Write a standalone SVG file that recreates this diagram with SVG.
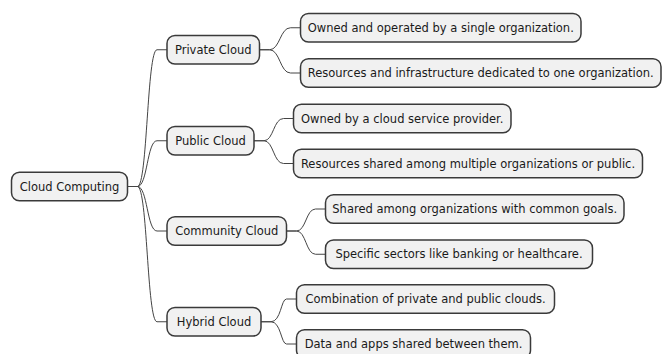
<svg xmlns="http://www.w3.org/2000/svg" width="662" height="354" viewBox="0 0 662 354">
<style>
.n rect{fill:#F1F1F1;stroke:#3a3a3a;stroke-width:1.5}
.n text{font-family:"DejaVu Sans",sans-serif;font-size:11.5px;fill:#1a1a1a;text-anchor:middle}
.c path{fill:none;stroke:#444;stroke-width:1}
</style>
<rect width="662" height="354" fill="#fff"/>
<g class="c">
<path d="M127.5 186.5H137.5C147.5 186.5 147 49.75 157 49.75H167"/>
<path d="M127.5 186.5H137.5C147.5 186.5 147 140.75 157 140.75H167"/>
<path d="M127.5 186.5H137.5C147.5 186.5 147 231 157 231H167"/>
<path d="M127.5 186.5H137.5C147.5 186.5 147 321.75 157 321.75H167"/>
<path d="M259.5 49.75H269.5C280 49.75 280 27.75 290.5 27.75H300.5"/>
<path d="M259.5 49.75H269.5C280 49.75 280 73 290.5 73H300.5"/>
<path d="M254 140.75H264C273.5 140.75 273.5 118.5 283.5 118.5H293.5"/>
<path d="M254 140.75H264C273.5 140.75 273.5 163.5 283.5 163.5H293.5"/>
<path d="M286.5 231H296.5C306 231 306 209 315.5 209H325.5"/>
<path d="M286.5 231H296.5C306 231 306 254.25 315.5 254.25H325.5"/>
<path d="M261 321.75H271C281 321.75 281 299 286.5 299H296.5"/>
<path d="M261 321.75H271C281 321.75 281 344 286.5 344H296.5"/>
</g>
<g id="root" class="n"><rect x="11.5" y="172.25" width="116" height="28.5" rx="8"/><text x="69.5" y="190.6">Cloud Computing</text></g>
<g id="private" class="n"><rect x="167" y="35.5" width="92.5" height="28.5" rx="8"/><text x="213.25" y="53.85">Private Cloud</text></g>
<g id="private1" class="n"><rect x="300.5" y="13.5" width="280.5" height="28.5" rx="8"/><text x="440.75" y="31.85">Owned and operated by a single organization.</text></g>
<g id="private2" class="n"><rect x="300.5" y="58.75" width="360.5" height="28.5" rx="8"/><text x="480.75" y="77.1">Resources and infrastructure dedicated to one organization.</text></g>
<g id="public" class="n"><rect x="167" y="126.5" width="87" height="28.5" rx="8"/><text x="210.5" y="144.85">Public Cloud</text></g>
<g id="public1" class="n"><rect x="293.5" y="104.25" width="217.5" height="28.5" rx="8"/><text x="402.25" y="122.6">Owned by a cloud service provider.</text></g>
<g id="public2" class="n"><rect x="293.5" y="149.25" width="349" height="28.5" rx="8"/><text x="468" y="167.6">Resources shared among multiple organizations or public.</text></g>
<g id="community" class="n"><rect x="167" y="216.75" width="119.5" height="28.5" rx="8"/><text x="226.75" y="235.1">Community Cloud</text></g>
<g id="community1" class="n"><rect x="325.5" y="194.75" width="298.5" height="28.5" rx="8"/><text x="474.75" y="213.1">Shared among organizations with common goals.</text></g>
<g id="community2" class="n"><rect x="325.5" y="240" width="267" height="28.5" rx="8"/><text x="459" y="258.35">Specific sectors like banking or healthcare.</text></g>
<g id="hybrid" class="n"><rect x="167" y="307.5" width="94" height="28.5" rx="8"/><text x="214" y="325.85">Hybrid Cloud</text></g>
<g id="hybrid1" class="n"><rect x="296.5" y="284.75" width="258" height="28.5" rx="8"/><text x="425.5" y="303.1">Combination of private and public clouds.</text></g>
<g id="hybrid2" class="n"><rect x="296.5" y="329.75" width="234" height="28.5" rx="8"/><text x="413.5" y="348.1">Data and apps shared between them.</text></g>
</svg>
